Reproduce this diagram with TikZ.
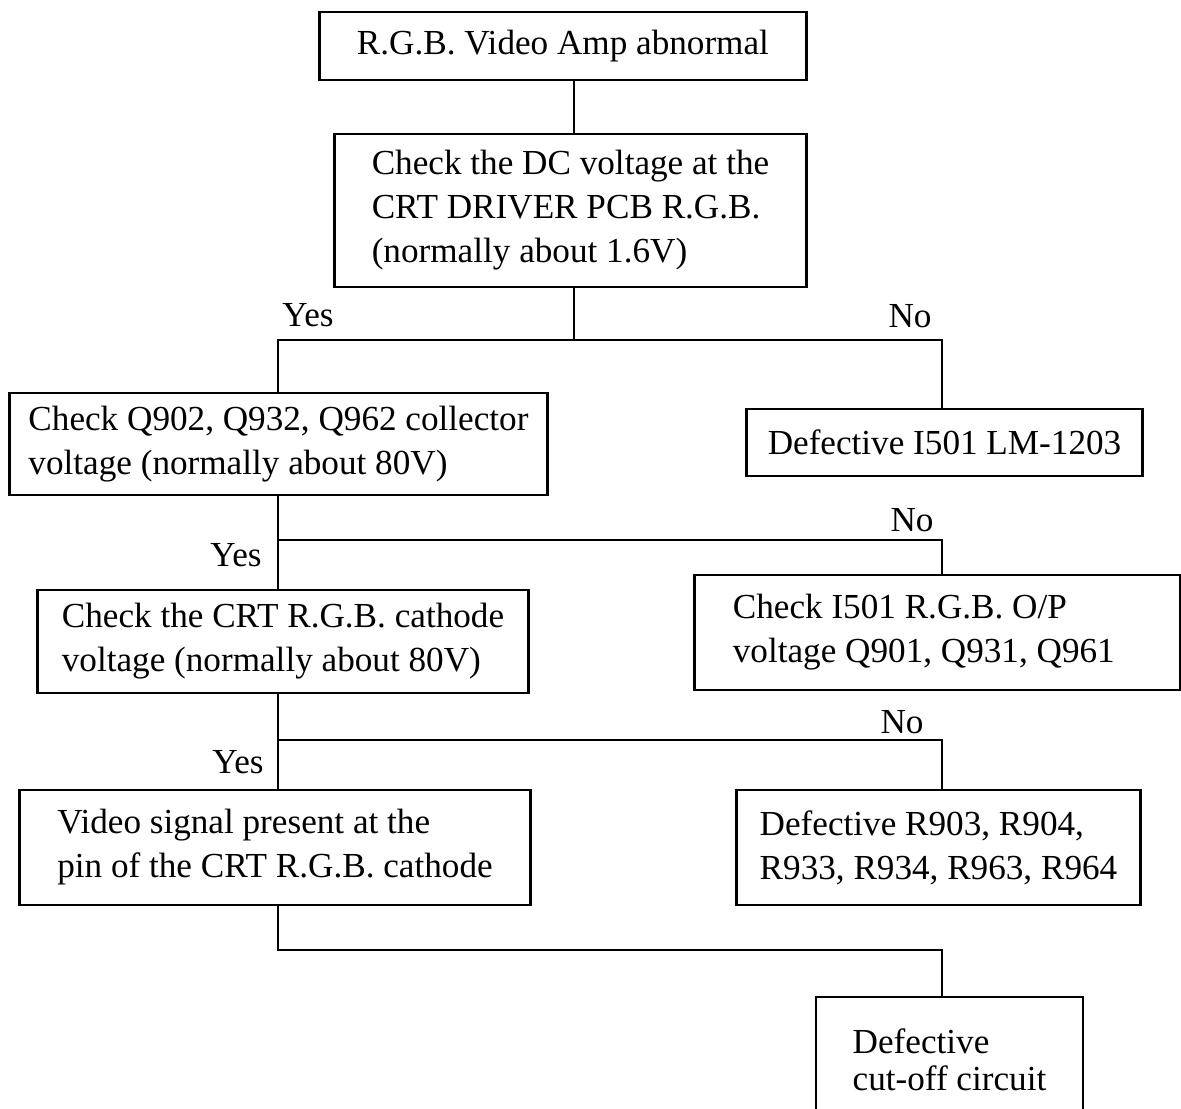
\documentclass[tikz,border=0pt]{standalone}
\usepackage{fontspec}
\setmainfont{Liberation Serif}
\tikzset{
  stepbox/.style={draw, line width=0.8pt, align=flush left, inner sep=0pt,
    font=\fontsize{10}{12.5}\selectfont},
  answer/.style={inner sep=0pt, font=\fontsize{10}{12.5}\selectfont},
  link/.style={line width=0.8pt}
}
\begin{document}
\begin{tikzpicture}[x=0.01cm, y=-0.01cm]
  \fill [white] (0,0) rectangle (1181,1108);
  \useasboundingbox (0,0) rectangle (1181,1108);

  % boxes
  \node [stepbox, minimum width=4.86cm, minimum height=0.68cm] (amp) at (563,46)
    {R.G.B. Video Amp abnormal};
  \node [stepbox, minimum width=4.71cm, minimum height=1.53cm] (dc) at (570.5,210.5)
    {Check the DC voltage at the\\CRT DRIVER PCB R.G.B.\\(normally about 1.6V)};
  \node [stepbox, minimum width=5.37cm, minimum height=1.02cm] (coll) at (278.5,444)
    {Check Q902, Q932, Q962 collector\\voltage (normally about 80V)};
  \node [stepbox, minimum width=3.95cm, minimum height=0.67cm] (ic) at (944.5,442.5)
    {Defective I501 LM-1203};
  \node [stepbox, minimum width=4.90cm, minimum height=1.03cm] (cath) at (283,641.5)
    {Check the CRT R.G.B. cathode\\voltage (normally about 80V)};
  \node [stepbox, inner xsep=0.38cm, text width=4.09cm, minimum height=1.15cm] (op) at (937.5,632.5)
    {Check I501 R.G.B. O/P\\voltage Q901, Q931, Q961};
  \node [stepbox, minimum width=5.10cm, minimum height=1.15cm] (sig) at (275,847.5)
    {Video signal present at the\\pin of the CRT R.G.B. cathode};
  \node [stepbox, minimum width=4.03cm, minimum height=1.15cm] (res) at (938.5,847.5)
    {Defective R903, R904,\\R933, R934, R963, R964};
  \node [stepbox, minimum width=2.67cm, minimum height=1.26cm,
    font=\fontsize{10}{10.5}\selectfont] (cut) at (949.5,1060)
    {Defective\\cut-off circuit};

  % branch points
  \coordinate (d0) at (574,340);
  \coordinate (r1) at (278,340);
  \coordinate (k1) at (942,340);
  \coordinate (r2) at (278,540);
  \coordinate (k2) at (942,540);
  \coordinate (r3) at (278,740);
  \coordinate (k3) at (942,740);
  \coordinate (r4) at (278,950);
  \coordinate (k4) at (942,950);

  % lines
  \draw [link] (amp.south -| d0) -- (dc.north -| d0);
  \draw [link] (dc.south -| d0) -- (d0);
  \draw [link] (coll.north -| r1) -- (r1) -- (k1) -- (ic.north -| k1);
  \draw [link] (coll.south -| r2) -- (cath.north -| r2);
  \draw [link] (r2) -- (k2) -- (op.north -| k2);
  \draw [link] (cath.south -| r3) -- (sig.north -| r3);
  \draw [link] (r3) -- (k3) -- (res.north -| k3);
  \draw [link] (sig.south -| r4) -- (r4) -- (k4) -- (cut.north -| k4);

  % answers
  \node [answer] (yes1) at (308,315) {Yes};
  \node [answer] (no1) at (910,316) {No};
  \node [answer] (no2) at (912,520) {No};
  \node [answer] (yes2) at (236,555) {Yes};
  \node [answer] (no3) at (902,722) {No};
  \node [answer] (yes3) at (238,762) {Yes};
\end{tikzpicture}
\end{document}
